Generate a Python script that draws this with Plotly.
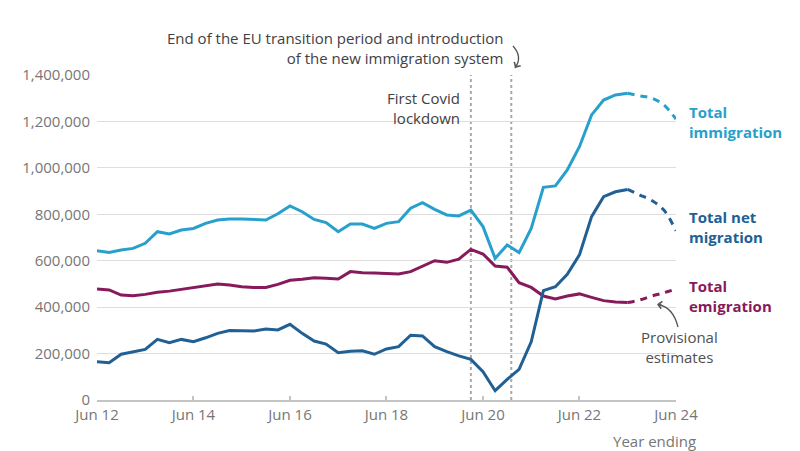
import pandas as pd
import plotly.graph_objects as go

# Quarterly "year ending" dates
quarters = pd.date_range("2012-06-01", "2023-06-01", freq="3MS")
provisional_quarters = pd.date_range("2023-06-01", "2024-06-01", freq="3MS")

# Values (thousands of people)
immigration = [643, 635, 646, 653, 675, 725, 715, 732, 739, 761, 775, 780, 780, 778, 775, 802,
               836, 811, 778, 764, 725, 758, 758, 739, 761, 768, 826, 850, 821, 797, 793, 818,
               747, 610, 668, 635, 739, 916, 922, 991, 1091, 1228, 1292, 1314, 1321]
emigration = [478, 474, 452, 449, 455, 464, 469, 477, 484, 495, 500, 495, 488, 485, 485, 498,
              516, 520, 527, 524, 521, 553, 548, 547, 544, 543, 553, 577, 600, 593, 607, 649,
              629, 577, 572, 505, 485, 448, 435, 448, 457, 442, 428, 422, 420]
net_migration = [165, 161, 197, 208, 218, 261, 247, 261, 251, 268, 287, 299, 299, 297, 306, 302,
                 326, 287, 254, 241, 204, 210, 212, 197, 220, 230, 279, 276, 230, 208, 190, 175,
                 122, 40, 89, 132, 251, 471, 488, 541, 625, 790, 876, 897, 907]

immigration_prov = [1321, 1310, 1300, 1271, 1210]
net_migration_prov = [907, 883, 859, 818, 729]
emigration_prov = [420, 431, 448, 462, 478]

immigration = [v * 1000 for v in immigration]
emigration = [v * 1000 for v in emigration]
net_migration = [v * 1000 for v in net_migration]
immigration_prov = [v * 1000 for v in immigration_prov]
net_migration_prov = [v * 1000 for v in net_migration_prov]
emigration_prov = [v * 1000 for v in emigration_prov]

tick_dates = ["2012-06-01", "2014-06-01", "2016-06-01", "2018-06-01",
              "2020-06-01", "2022-06-01", "2024-06-01"]
tick_labels = ["Jun 12", "Jun 14", "Jun 16", "Jun 18", "Jun 20", "Jun 22", "Jun 24"]
y_ticks = [0, 200000, 400000, 600000, 800000, 1000000, 1200000, 1400000]

event_dates = ["2020-03-01", "2021-01-01"]

C_IMM = "#27a0cc"
C_NET = "#206095"
C_EMI = "#871a5b"
FONT = "Open Sans"

fig = go.Figure()

for vals, prov, col in [(immigration, immigration_prov, C_IMM),
                        (emigration, emigration_prov, C_EMI),
                        (net_migration, net_migration_prov, C_NET)]:
    fig.add_trace(go.Scatter(x=quarters, y=vals, mode="lines",
                             line=dict(color=col, width=3), hoverinfo="skip",
                             showlegend=False))
    fig.add_trace(go.Scatter(x=provisional_quarters, y=prov, mode="lines",
                             line=dict(color=col, width=3, dash="7px,6px", shape="spline"),
                             hoverinfo="skip", showlegend=False))

for d in event_dates:
    fig.add_shape(type="line", xref="x", yref="paper", x0=d, x1=d, y0=0, y1=1,
                  line=dict(color="#a8a8a8", width=2, dash="3px,3px"), layer="below")

# page shows the figure offset by the default body margin
OFF = 8
W, H = 800, 451
# target plot area in screen pixels
SX0, SX1, SY0, SY1 = 97, 676, 75, 400
L, T = SX0 - OFF, SY0 - OFF
R, B = W - (SX1 - OFF), H - (SY1 - OFF)
PW, PH = SX1 - SX0, SY1 - SY0


def px(x):
    return (x - SX0) / PW


def py(y):
    return (SY1 - y) / PH


def label(text, x, y, xanchor, color, size=15, bold=False):
    t = f"<b>{text}</b>" if bold else text
    return dict(text=t, x=px(x), y=py(y), xanchor=xanchor, yanchor="middle",
                align=xanchor if xanchor != "center" else "center",
                xref="paper", yref="paper", showarrow=False,
                font=dict(family=FONT, size=size, color=color))


annotations = [
    label("End of the EU transition period and introduction<br>of the new immigration system",
          505, 48, "right", "#414042"),
    label("First Covid<br>lockdown", 462, 107.5, "right", "#414042"),
    label("Total<br>immigration", 687, 122, "left", C_IMM, bold=True),
    label("Total net<br>migration", 687, 227, "left", C_NET, bold=True),
    label("Total<br>emigration", 687, 295.5, "left", C_EMI, bold=True),
    label("Provisional<br>estimates", 679, 346.5, "center", "#505050"),
    label("Year ending", 698, 441, "right", "#767676"),
]

# curved arrow shafts
fig.add_shape(type="path", xref="paper", yref="paper",
              path=f"M {px(513)},{py(46)} Q {px(523)},{py(57)} {px(515)},{py(68)}",
              line=dict(color="#555555", width=1.3))
fig.add_shape(type="path", xref="paper", yref="paper",
              path=f"M {px(678)},{py(327)} Q {px(673)},{py(307)} {px(658)},{py(304.5)}",
              line=dict(color="#555555", width=1.3))
# arrow heads
annotations.append(dict(xref="paper", yref="paper", x=px(515), y=py(68), ax=3, ay=-5,
                        text="", showarrow=True, arrowhead=4, arrowsize=1.1,
                        arrowwidth=1.3, arrowcolor="#555555"))
annotations.append(dict(xref="paper", yref="paper", x=px(657), y=py(304.3), ax=6, ay=1,
                        text="", showarrow=True, arrowhead=4, arrowsize=1.1,
                        arrowwidth=1.3, arrowcolor="#555555"))

fig.update_layout(
    width=W, height=H, autosize=False,
    margin=dict(l=L, r=R, t=T, b=B, pad=0),
    paper_bgcolor="white", plot_bgcolor="white",
    font=dict(family=FONT, size=15, color="#767676"),
    annotations=annotations,
    showlegend=False,
    xaxis=dict(type="date", range=["2012-06-01", "2024-06-01"],
               tickvals=tick_dates, ticktext=tick_labels,
               showgrid=False, showline=True, linecolor="#c4c4c4", linewidth=2,
               ticks="inside", ticklen=4, tickwidth=1.5, tickcolor="#c4c4c4",
               tickfont=dict(size=15, color="#767676"), zeroline=False, fixedrange=True),
    yaxis=dict(range=[0, 1400000], tickvals=y_ticks, tickformat=",",
               showgrid=True, gridcolor="#dedede", gridwidth=1.2,
               zeroline=False, showline=False, ticks="",
               ticklabelstandoff=6,
               tickfont=dict(size=15, color="#767676"), fixedrange=True),
)

fig.write_html("out.html")
